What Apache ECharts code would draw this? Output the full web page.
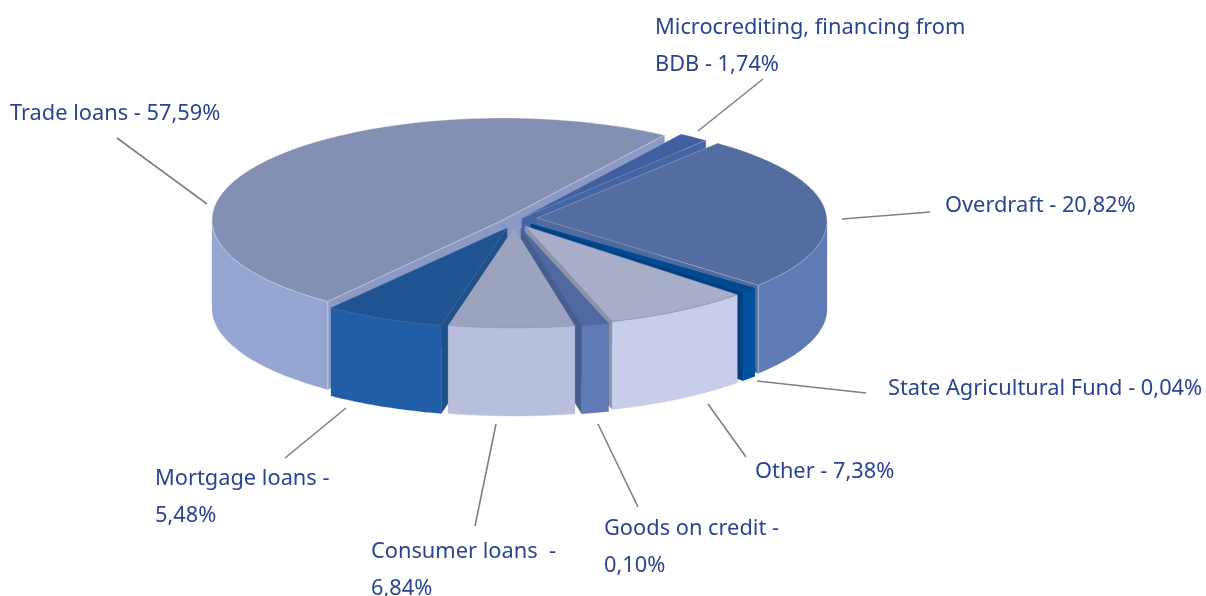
<!DOCTYPE html>
<html>
<head>
<meta charset="utf-8">
<style>html,body{margin:0;padding:0;background:#fff}#c{width:1206px;height:596px}</style>
<script src="https://cdn.jsdelivr.net/npm/echarts@6/dist/echarts.min.js"></script>
</head>
<body>
<div id="c"></div>
<script>
// Values printed on the chart
const categories = ['Microcrediting, financing from BDB','Overdraft','State Agricultural Fund','Other','Goods on credit','Consumer loans','Mortgage loans','Trade loans'];
const shareLabels = ['1,74%','20,82%','0,04%','7,38%','0,10%','6,84%','5,48%','57,59%'];
// Slice widths as they appear in the picture (degrees); the source's drawing is not proportional to its labels
const drawnSweep = [6, 91, 3.4, 29.2, 5.4, 25, 24, 176.7];
const firstAngle = -57;

// Styling and layout
const apexPoint = [[522,218],[537,218],[531,224],[525,226],[521,228],[514,228],[507,228],[503,220]];
const rimCentre = [[522,218],[533,221],[531,224],[525,226],[521,228],[514,228],[507,228],[503,220]];
const radiusX = [292,294,292,292,292,292,292,291];
const radiusY = [100,100,100,100,100,100,100,102];
const depth = 88;
const topColors  = ['#3f5f9e','#546da0','#004a90','#a9aec8','#5069a0','#9ca3bf','#1f5391','#8390b4'];
const wallColors = ['#4564a4','#5f7bb6','#00529e','#c8cde9','#5f7ab5','#b7bfdd','#215ea6','#97a5d2'];
const cutColors  = ['#4564a4','#4f6a9f','#003f80','#8f93a8','#465d8e','#9ca3bf','#1f5086','#8b99c4'];
const edgeColors = ['rgba(255,255,255,.25)','rgba(255,255,255,.3)',null,'rgba(90,130,190,.5)',null,'rgba(90,130,190,.3)','rgba(255,255,255,.15)','rgba(255,255,255,.45)'];
const wallSeam   = [null,'#a9b5d5',null,null,null,null,null,'#c4cbe0'];
const paintOrder = [7,0,1,2,3,4,6,5];

const labelLines = [
  ['Microcrediting, financing from','BDB - 1,74%'],
  ['Overdraft - 20,82%'],
  ['State Agricultural Fund - 0,04%'],
  ['Other - 7,38%'],
  ['Goods on credit -','0,10%'],
  ['Consumer loans  -','6,84%'],
  ['Mortgage loans -','5,48%'],
  ['Trade loans - 57,59%']
];
const labelAnchor = [[655,28],[945,206],[888,389],[755,472],[604,529],[371,552],[155,479],[10,114]];
const leaders = [
  [698,131,763,79],[842,219,930,212],[757,381,866,393],[708,404,746,457],
  [598,424,638,507],[496,424,475,526],[346,408,285,458],[117,138,207,204]
];
const lineGap = 37;

const rad = d => d * Math.PI / 180;
const starts = [];
drawnSweep.reduce((a, s, i) => { starts[i] = a; return a + s; }, firstAngle);

function onRim(i, deg) {
  return [rimCentre[i][0] + radiusX[i] * Math.cos(rad(deg)),
          rimCentre[i][1] + radiusY[i] * Math.sin(rad(deg))];
}
function arc(i, a, b) {
  const pts = [], n = Math.max(2, Math.ceil(Math.abs(b - a)));
  for (let k = 0; k <= n; k++) pts.push(onRim(i, a + (b - a) * k / n));
  return pts;
}
const down = p => [p[0], p[1] + depth];

function renderItem(params, api) {
  const i = api.value(0), c = apexPoint[i], a = starts[i], b = a + drawnSweep[i];
  const kids = [];
  const poly = (points, fill, stroke) => kids.push({
    type: 'polygon', shape: { points },
    style: { fill, stroke: stroke || fill, lineWidth: stroke ? 0.8 : 0.3 }
  });
  [a, b].forEach(deg => {
    const r = onRim(i, deg);
    poly([c, r, down(r), down(c)], cutColors[i]);
  });
  // outer wall: only the part that faces the viewer (rim angles between 0 and 180 degrees)
  [[a, b], [a - 360, b - 360]].forEach(([p, q]) => {
    const lo = Math.max(p, 0), hi = Math.min(q, 180);
    if (hi > lo) {
      const rim = arc(i, lo, hi);
      poly(rim.concat(rim.map(down).reverse()), wallColors[i]);
      if (wallSeam[i]) {
        const end = lo > 0 ? rim[0] : rim[rim.length - 1];
        kids.push({ type: 'polyline', shape: { points: [end, down(end)] },
                    style: { stroke: wallSeam[i], lineWidth: 1, fill: null } });
      }
    }
  });
  poly([c].concat(arc(i, a, b)), topColors[i], edgeColors[i]);
  return { type: 'group', children: kids };
}

const graphics = [];
leaders.forEach(l => graphics.push({
  type: 'line', silent: true, z: 5,
  shape: { x1: l[0], y1: l[1], x2: l[2], y2: l[3] },
  style: { stroke: '#808080', lineWidth: 1.6 }
}));
labelLines.forEach((rows, i) => rows.forEach((text, r) => graphics.push({
  type: 'text', silent: true, z: 6,
  x: labelAnchor[i][0], y: labelAnchor[i][1] + r * lineGap,
  style: { text, fill: '#2b4492', font: '21.8px "Noto Sans"', textAlign: 'left', textVerticalAlign: 'middle' }
})));

const chart = echarts.init(document.getElementById('c'), null, { renderer: 'canvas' });
chart.setOption({
  animation: false,
  backgroundColor: '#ffffff',
  graphic: { elements: graphics },
  series: [{
    type: 'custom',
    coordinateSystem: 'none',
    silent: true,
    renderItem,
    data: paintOrder.map(i => ({ name: categories[i], value: [i, drawnSweep[i]], label: shareLabels[i] }))
  }]
});
</script>
</body>
</html>
